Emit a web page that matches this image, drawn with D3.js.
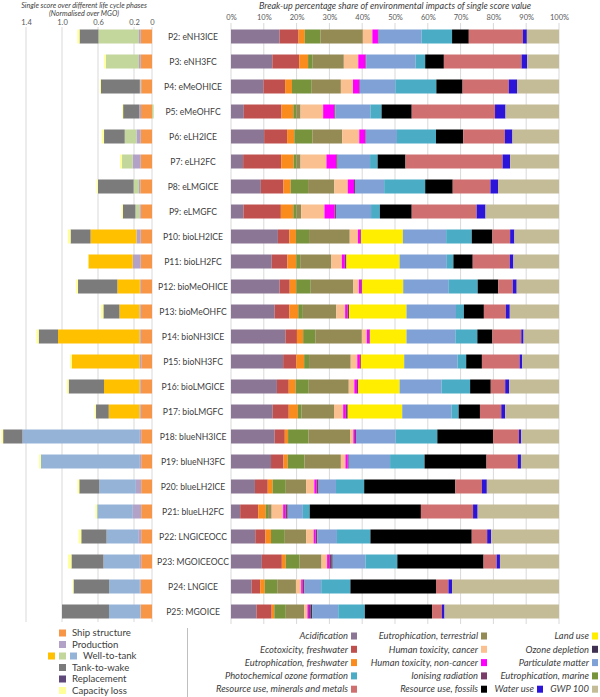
<!DOCTYPE html>
<html>
<head>
<meta charset="utf-8">
<script src="https://cdnjs.cloudflare.com/ajax/libs/d3/7.8.5/d3.min.js"></script>
<style>
  body { margin: 0; background: #fff; }
  svg text { font-family: Lato, "Liberation Sans", sans-serif; fill: #404040; }
</style>
</head>
<body>
<div id="chart"></div>
<script>

// scenarios, top to bottom
var scenarios = ["P2: eNH3ICE", "P3: eNH3FC", "P4: eMeOHICE", "P5: eMeOHFC", "P6: eLH2ICE", "P7: eLH2FC",
  "P8: eLMGICE", "P9: eLMGFC", "P10: bioLH2ICE", "P11: bioLH2FC", "P12: bioMeOHICE", "P13: bioMeOHFC",
  "P14: bioNH3ICE", "P15: bioNH3FC", "P16: bioLMGICE", "P17: bioLMGFC", "P18: blueNH3ICE", "P19: blueNH3FC",
  "P20: blueLH2ICE", "P21: blueLH2FC", "P22: LNGICEOCC", "P23: MGOICEOCC", "P24: LNGICE", "P25: MGOICE"];

// fuel pathway of each scenario (sets the well-to-tank colour)
var pathway = ["e","e","e","e","e","e","e","e","bio","bio","bio","bio","bio","bio","bio","bio",
  "blue","blue","blue","blue","blue","blue","blue","blue"];

// left panel: single score per life cycle phase, normalised over MGO
var shipStructure = [0.125, 0.125, 0.12, 0.122, 0.125, 0.125, 0.13, 0.125, 0.125, 0.125, 0.125, 0.125,
  0.125, 0.12, 0.125, 0.125, 0.12, 0.12, 0.12, 0.12, 0.12, 0.12, 0.125, 0.125];
var production = [0.02, 0.02, 0.01, 0.019, 0.048, 0.089, 0.015, 0.015, 0.048, 0.089, 0.01, 0.015,
  0.015, 0.02, 0.015, 0.015, 0.015, 0.015, 0.059, 0.093, 0.033, 0.015, 0.01, 0.005];
var wellToTank = [0.45, 0.367, 0.005, -0.018, 0.13, 0.119, 0.059, 0.044, 0.51, 0.493, 0.25, 0.222,
  0.904, 0.752, 0.393, 0.341, 1.304, 1.10, 0.407, 0.396, 0.352, 0.404, 0.341, 0.348];
var tankToWake = [0.21, 0, 0.433, 0.18, 0.23, 0, 0.396, 0.14, 0.222, 0, 0.437, 0.178,
  0.215, 0, 0.393, 0.141, 0.215, 0, 0.222, 0, 0.281, 0.356, 0.396, 0.522];
var replacement = [0, 0, 0, 0, 0, 0, 0, 0, 0, 0, 0, 0, 0, 0, 0, 0, 0, 0, 0, 0, 0, 0, 0, 0];
var capacityLoss = [0.025, 0.02, 0.012, 0.011, 0.026, 0.022, 0.015, 0.015, 0.03, 0.005, 0.022, 0.026,
  0.026, 0.02, 0.02, 0.015, 0.02, 0.02, 0.02, 0.02, 0.03, 0.037, 0.011, 0];
var phaseTicks = [1.4, 1.0, 0.6, 0.2, 0];

// right panel: share of the single score per impact category (%)
var acidification = [14.8, 12.6, 9.9, 3.9, 10.1, 3.7, 9.1, 3.8, 14.3, 12.4, 14.8, 13.3, 16.6, 15.9, 14.0, 12.7, 13.3, 12.2, 7.3, 2.8, 7.4, 9.4, 6.3, 7.8];
var ecotoxicity = [5.8, 8.2, 6.6, 11.5, 7.0, 11.6, 6.9, 11.4, 3.5, 4.8, 3.1, 4.5, 3.5, 4.0, 3.6, 4.9, 3.1, 3.8, 3.9, 5.5, 3.1, 6.1, 2.6, 4.6];
var eutroFreshwater = [1.9, 2.7, 2.1, 3.6, 2.2, 3.8, 2.2, 3.8, 2.0, 2.7, 2.0, 2.7, 1.9, 2.4, 2.1, 2.8, 1.0, 1.3, 1.5, 2.3, 1.7, 1.2, 1.4, 0.8];
var eutroMarine = [4.8, 1.4, 6.0, 0.9, 5.5, 0.9, 5.3, 1.0, 4.0, 1.2, 4.4, 1.4, 3.7, 1.5, 4.0, 1.1, 6.2, 5.1, 4.0, 0.7, 4.2, 4.2, 3.8, 3.5];
var eutroTerrestrial = [12.9, 9.5, 8.9, 1.3, 9.1, 1.2, 8.0, 1.4, 12.4, 9.5, 13.0, 10.2, 14.2, 12.7, 12.2, 9.9, 12.7, 11.1, 6.2, 1.1, 6.5, 6.7, 5.7, 5.6];
var htCancer = [2.9, 4.4, 3.7, 6.9, 5.2, 7.9, 4.1, 7.1, 2.5, 3.2, 1.7, 2.7, 1.5, 2.0, 1.7, 2.8, 1.0, 1.4, 2.5, 3.5, 2.3, 1.7, 1.6, 1.0];
var htNonCancer = [1.7, 2.2, 1.9, 3.4, 1.8, 3.0, 1.9, 3.1, 0.7, 0.9, 0.7, 0.7, 0.8, 0.8, 0.8, 0.8, 0.5, 0.7, 0.7, 0.7, 0.6, 0.7, 0.5, 0.5];
var ionising = [0.2, 0.2, 0.2, 0.3, 0.2, 0.4, 0.3, 0.4, 0.3, 0.5, 0.3, 0.5, 0.2, 0.3, 0.4, 0.6, 0.3, 0.3, 0.6, 0.7, 0.5, 0.6, 0.5, 0.5];
var landUse = [0, 0, 0, 0, 0, 0, 0, 0, 12.7, 16.2, 12.5, 17.5, 11.1, 13.2, 12.6, 16.6, 0, 0, 0, 0, 0, 0, 0, 0];
var ozoneDepletion = [0, 0, 0, 0, 0, 0, 0, 0, 0, 0, 0, 0, 0, 0, 0, 0, 0, 0, 0, 0, 0, 0.4, 0, 0.5];
var particulate = [13.1, 15.1, 10.8, 10.7, 9.5, 9.9, 8.9, 10.7, 13.2, 14.4, 13.9, 15.1, 14.9, 16.3, 12.8, 15.0, 12.1, 12.6, 5.3, 4.6, 6.0, 10.0, 5.1, 7.9];
var photochemical = [9.3, 2.9, 12.5, 3.4, 11.9, 2.3, 12.5, 2.7, 7.8, 2.0, 8.8, 2.4, 6.7, 2.6, 8.7, 2.2, 12.7, 10.5, 8.6, 2.1, 10.2, 9.7, 8.9, 8.1];
var fossils = [5.1, 5.7, 8.0, 9.2, 8.3, 8.5, 8.4, 9.7, 6.3, 5.9, 6.3, 6.1, 4.6, 4.8, 6.3, 6.5, 17.0, 18.9, 27.8, 33.9, 30.9, 26.3, 26.1, 20.5];
var minerals = [16.5, 23.7, 14.1, 25.4, 12.7, 29.6, 11.5, 19.8, 5.4, 11.3, 4.4, 6.7, 8.8, 11.5, 4.4, 6.5, 7.9, 9.5, 8.1, 15.9, 4.7, 4.0, 3.8, 3.0];
var waterUse = [1.2, 1.7, 2.5, 3.2, 2.3, 2.3, 2.3, 2.7, 1.3, 1.1, 1.2, 1.2, 0.7, 0.8, 1.2, 1.2, 0.7, 1.0, 1.5, 1.4, 1.2, 1.0, 1.1, 0.8];
var gwp100 = [9.8, 9.7, 12.8, 16.3, 14.2, 14.9, 18.6, 22.4, 13.6, 13.9, 12.9, 15.0, 10.8, 11.2, 15.2, 16.4, 11.5, 11.6, 22.0, 24.8, 20.7, 18.0, 32.6, 34.9];

// impact categories in stacking order
var impactNames = ["Acidification", "Ecotoxicity, freshwater", "Eutrophication, freshwater", "Eutrophication, marine",
  "Eutrophication, terrestrial", "Human toxicity, cancer", "Human toxicity, non-cancer", "Ionising radiation",
  "Land use", "Ozone depletion", "Particulate matter", "Photochemical ozone formation",
  "Resource use, fossils", "Resource use, minerals and metals", "Water use", "GWP 100"];
var impactSeries = [acidification, ecotoxicity, eutroFreshwater, eutroMarine, eutroTerrestrial, htCancer, htNonCancer,
  ionising, landUse, ozoneDepletion, particulate, photochemical, fossils, minerals, waterUse, gwp100];
var impactColors = ["#8b7696", "#c0504d", "#f98c1c", "#77933c", "#948a54", "#fac090", "#ff00ff", "#7a3d6a",
  "#ffee00", "#403152", "#7fa1d5", "#4bacc6", "#000000", "#cf6f6f", "#2c14d8", "#c4bc96"];

var phaseKeys = ["ship", "production", "wtt", "ttw", "replacement", "capacity"];
var phaseColors = { ship: "#f79646", production: "#b3a2c7", ttw: "#7b7b7b", replacement: "#5f497a", capacity: "#ffff99" };
var wttColors = { e: "#c3d69b", bio: "#ffc000", blue: "#95b3d7" };

var width = 600, height = 697;

var svg = d3.select("#chart").append("svg")
    .attr("width", width)
    .attr("height", height);

var y = d3.scaleBand()
    .domain(scenarios)
    .range([24, 624])
    .paddingInner(0.44)
    .paddingOuter(0.22);

/* ---------- left panel: life cycle phases ---------- */

var phaseRows = scenarios.map(function(s, i) {
  return { name: s, path: pathway[i], ship: shipStructure[i], production: production[i], wtt: wellToTank[i],
           ttw: tankToWake[i], replacement: replacement[i], capacity: capacityLoss[i] };
});

var xL = d3.scaleLinear().domain([0, 1]).range([152, 62]);

var left = svg.append("g");

left.selectAll(".lgrid").data(phaseTicks).enter().append("line")
    .attr("x1", function(d) { return xL(d); })
    .attr("x2", function(d) { return xL(d); })
    .attr("y1", 27).attr("y2", 622)
    .attr("stroke", "#d9d9d9").attr("stroke-width", 1);

var leftAxis = left.append("g")
    .attr("transform", "translate(0,25)")
    .call(d3.axisTop(xL).tickValues(phaseTicks).tickSize(0).tickPadding(0)
      .tickFormat(function(d) { return d === 0 ? "0" : d3.format(".1f")(d); }));
leftAxis.select(".domain").remove();
leftAxis.selectAll("text").attr("font-size", "7.5px").style("fill", "#595959");

var phaseStack = d3.stack().keys(phaseKeys).offset(d3.stackOffsetDiverging)(phaseRows);

left.selectAll(".phase").data(phaseStack).enter().append("g")
  .selectAll("rect").data(function(layer) { return layer.map(function(d) { d.key = layer.key; return d; }); })
  .enter().append("rect")
    .attr("x", function(d) { return Math.min(xL(d[0]), xL(d[1])); })
    .attr("width", function(d) { return Math.abs(xL(d[0]) - xL(d[1])); })
    .attr("y", function(d) { return y(d.data.name); })
    .attr("height", y.bandwidth())
    .attr("fill", function(d) { return d.key === "wtt" ? wttColors[d.data.path] : phaseColors[d.key]; });

svg.append("text").attr("x", 84).attr("y", 7.5).attr("text-anchor", "middle")
    .attr("font-size", "7.2px").attr("font-style", "italic")
    .text("Single score over different life cycle phases");
svg.append("text").attr("x", 84).attr("y", 16).attr("text-anchor", "middle")
    .attr("font-size", "7.2px").attr("font-style", "italic")
    .text("(Normalised over MGO)");

/* ---------- scenario labels ---------- */

svg.selectAll(".rowlabel").data(scenarios).enter().append("text")
    .attr("x", 193)
    .attr("y", function(d) { return y(d) + y.bandwidth() / 2; })
    .attr("dy", "0.35em")
    .attr("text-anchor", "middle")
    .attr("font-size", "8.6px")
    .text(function(d) { return d; });

/* ---------- right panel: impact shares ---------- */

var shareRows = scenarios.map(function(s, i) {
  var row = { name: s };
  impactNames.forEach(function(k, j) { row[k] = impactSeries[j][i]; });
  return row;
});

var xR = d3.scaleLinear().domain([0, 100]).range([231, 559]);
var right = svg.append("g");

right.selectAll(".rgrid").data(d3.range(0, 101, 10)).enter().append("line")
    .attr("x1", function(d) { return xR(d); })
    .attr("x2", function(d) { return xR(d); })
    .attr("y1", 23).attr("y2", 624)
    .attr("stroke", "#d9d9d9").attr("stroke-width", 1);

var rightAxis = right.append("g")
    .attr("transform", "translate(0,20)")
    .call(d3.axisTop(xR).tickValues(d3.range(0, 101, 10)).tickSize(0).tickPadding(0)
      .tickFormat(function(d) { return d + "%"; }));
rightAxis.select(".domain").remove();
rightAxis.selectAll("text").attr("font-size", "7.5px").style("fill", "#595959");

var shareStack = d3.stack().keys(impactNames)(shareRows);

right.selectAll(".impact").data(shareStack).enter().append("g")
    .attr("fill", function(d, i) { return impactColors[i]; })
  .selectAll("rect").data(function(d) { return d; })
  .enter().append("rect")
    .attr("x", function(d) { return xR(d[0]); })
    .attr("width", function(d) { return Math.max(0, xR(d[1]) - xR(d[0])); })
    .attr("y", function(d) { return y(d.data.name); })
    .attr("height", y.bandwidth());

svg.append("text").attr("x", 395).attr("y", 9).attr("text-anchor", "middle")
    .attr("font-size", "9px").attr("font-style", "italic")
    .text("Break-up percentage share of environmental impacts of single score value");

/* ---------- legends ---------- */

var phaseLegend = [
  { label: "Ship structure", colors: [phaseColors.ship] },
  { label: "Production", colors: [phaseColors.production] },
  { label: "Well-to-tank", colors: [wttColors.bio, wttColors.e, wttColors.blue] },
  { label: "Tank-to-wake", colors: [phaseColors.ttw] },
  { label: "Replacement", colors: [phaseColors.replacement] },
  { label: "Capacity loss", colors: [phaseColors.capacity] }
];

var pl = svg.append("g");
phaseLegend.forEach(function(item, i) {
  var cy = 633 + i * 11.5;
  var n = item.colors.length;
  item.colors.forEach(function(c, j) {
    pl.append("rect").attr("x", (n > 1 ? 48 : 59) + j * 11).attr("y", cy - 3.5)
      .attr("width", 7).attr("height", 7).attr("fill", c);
  });
  pl.append("text").attr("x", n > 1 ? 83 : 72).attr("y", cy).attr("dy", "0.35em")
    .attr("font-size", "9.6px").text(item.label);
});

svg.append("line").attr("x1", 187.5).attr("x2", 187.5).attr("y1", 628).attr("y2", 697)
    .attr("stroke", "#bfbfbf");

// legend entries: [impact index, right edge of text, row]
var impactLegend = [
  [0, 348, 0], [1, 348, 1], [2, 348, 2], [11, 348, 3], [13, 348, 4],
  [4, 478, 0], [5, 478, 1], [6, 478, 2], [7, 478, 3], [12, 478, 4],
  [8, 589, 0], [9, 589, 1], [10, 589, 2], [3, 589, 3], [14, 534, 4], [15, 589, 4]
];

var il = svg.append("g");
impactLegend.forEach(function(e) {
  var cy = 636 + e[2] * 13.3;
  il.append("rect").attr("x", e[1] + 3).attr("y", cy - 3.5)
    .attr("width", 6).attr("height", 7).attr("fill", impactColors[e[0]]);
  il.append("text").attr("x", e[1]).attr("y", cy).attr("dy", "0.35em")
    .attr("text-anchor", "end").attr("font-size", "9.4px").attr("font-style", "italic")
    .text(impactNames[e[0]]);
});

</script>
</body>
</html>
